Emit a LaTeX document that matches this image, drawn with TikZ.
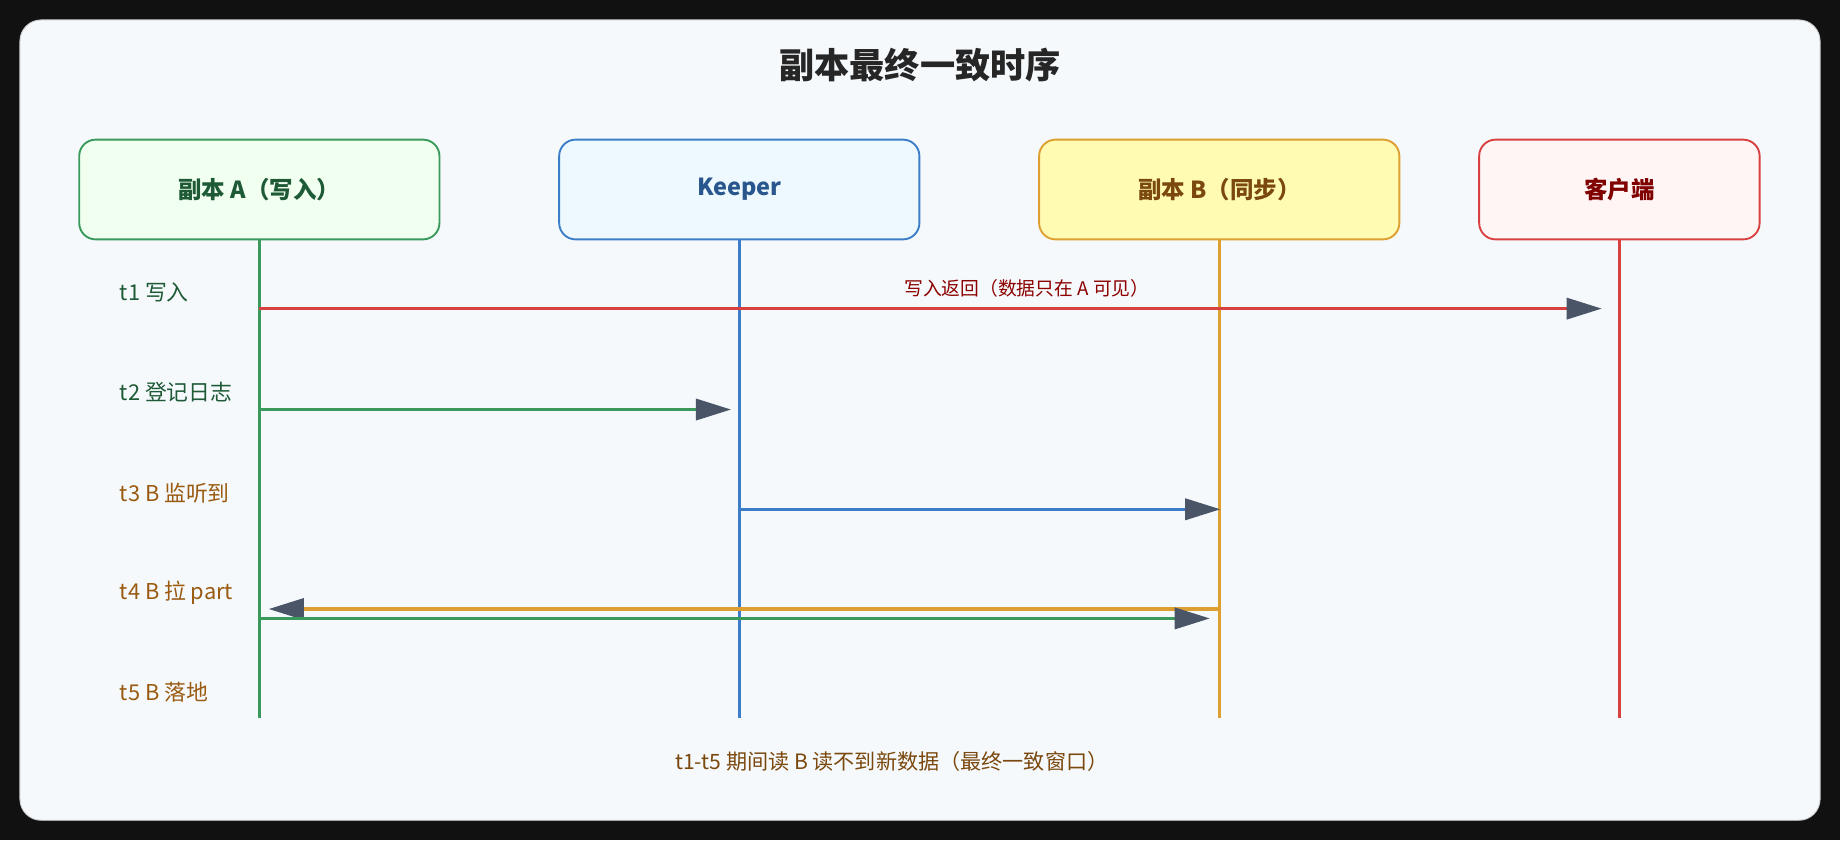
\documentclass[tikz,border=0pt]{standalone}
\usepackage{fontspec}
\setmainfont{Noto Sans CJK SC}
\usetikzlibrary{positioning,arrows.meta}
\definecolor{pagebg}{HTML}{111111}
\definecolor{cardbg}{HTML}{F5F9FC}
\definecolor{tipgray}{HTML}{4A5568}
\definecolor{agreen}{HTML}{3A9A5B}
\definecolor{kblue}{HTML}{3B7DC9}
\definecolor{borange}{HTML}{DDA030}
\definecolor{cred}{HTML}{D94040}
\definecolor{tgreen}{HTML}{1F5A36}
\definecolor{tbrown}{HTML}{9A5A10}
\tikzset{
  actor/.style={draw,rounded corners=7pt,line width=0.8pt,minimum width=153.5pt,minimum height=42.5pt,font=\fontsize{10}{12}\selectfont\bfseries},
  life/.style={line width=1.4pt},
  msg/.style={line width=1.4pt,-{Triangle[length=15pt,width=9pt,color=tipgray]}},
  tlabel/.style={anchor=west,font=\fontsize{9.3}{11}\selectfont}
}
\begin{document}
\begin{tikzpicture}[x=0.5pt,y=-0.5pt]
  \fill[pagebg] (0,0) rectangle (1568,716);
  \useasboundingbox (0,0) rectangle (1568,716);
  \filldraw[fill=cardbg,draw=gray!40,rounded corners=9pt] (17,17) rectangle (1551,699);
  \node[font=\fontsize{15}{18}\selectfont\bfseries,text=black!85] (title) at (784,55) {副本最终一致时序};

  % actors
  \node[actor,fill=green!6,draw=agreen,text=tgreen] (repa) at (221,161.5) {副本 A（写入）};
  \node[actor,fill=cyan!7,draw=kblue,text=kblue!70!black] (keeper) at (630,161.5) {Keeper};
  \node[actor,fill=yellow!30,draw=borange,text=tbrown!80!black] (repb) at (1039,161.5) {副本 B（同步）};
  \node[actor,minimum width=119.5pt,fill=red!4,draw=cred,text=red!50!black] (client) at (1380,161.5) {客户端};

  % lifelines
  \foreach \n/\c in {repa/agreen,keeper/kblue,repb/borange,client/cred}{
    \coordinate (\n-end) at (\n.south |- 0,612);
    \draw[life,\c] (\n.south) -- (\n-end);
  }

  % step labels
  \node[tlabel,text=tgreen] (t1) at (95,249) {t1 写入};
  \node[tlabel,text=tgreen] (t2) at (95,334) {t2 登记日志};
  \node[tlabel,text=tbrown] (t3) at (95,420) {t3 B 监听到};
  \node[tlabel,text=tbrown] (t4) at (95,505) {t4 B 拉 part};
  \node[tlabel,text=tbrown] (t5) at (95,590) {t5 B 落地};

  % messages
  \coordinate (m1a) at (221,263);  \coordinate (m1b) at (1365,263);
  \coordinate (m2a) at (221,349);  \coordinate (m2b) at (623,349);
  \coordinate (m3a) at (630,434);  \coordinate (m3b) at (1040,434);
  \coordinate (m4a) at (1039,519); \coordinate (m4b) at (229,519);
  \coordinate (m5a) at (221,527);  \coordinate (m5b) at (1031,527);
  \draw[msg,cred] (m1a) -- (m1b);
  \node[font=\fontsize{8}{10}\selectfont,text=red!55!black] (m1lbl) at (875,246) {写入返回（数据只在 A 可见）};
  \draw[msg,agreen] (m2a) -- (m2b);
  \draw[msg,kblue] (m3a) -- (m3b);
  \draw[msg,borange] (m4a) -- (m4b);
  \draw[msg,agreen] (m5a) -- (m5b);

  \node[font=\fontsize{9}{11}\selectfont,text=tbrown!80!black] (foot) at (760,649) {t1-t5 期间读 B 读不到新数据（最终一致窗口）};
\end{tikzpicture}
\end{document}
